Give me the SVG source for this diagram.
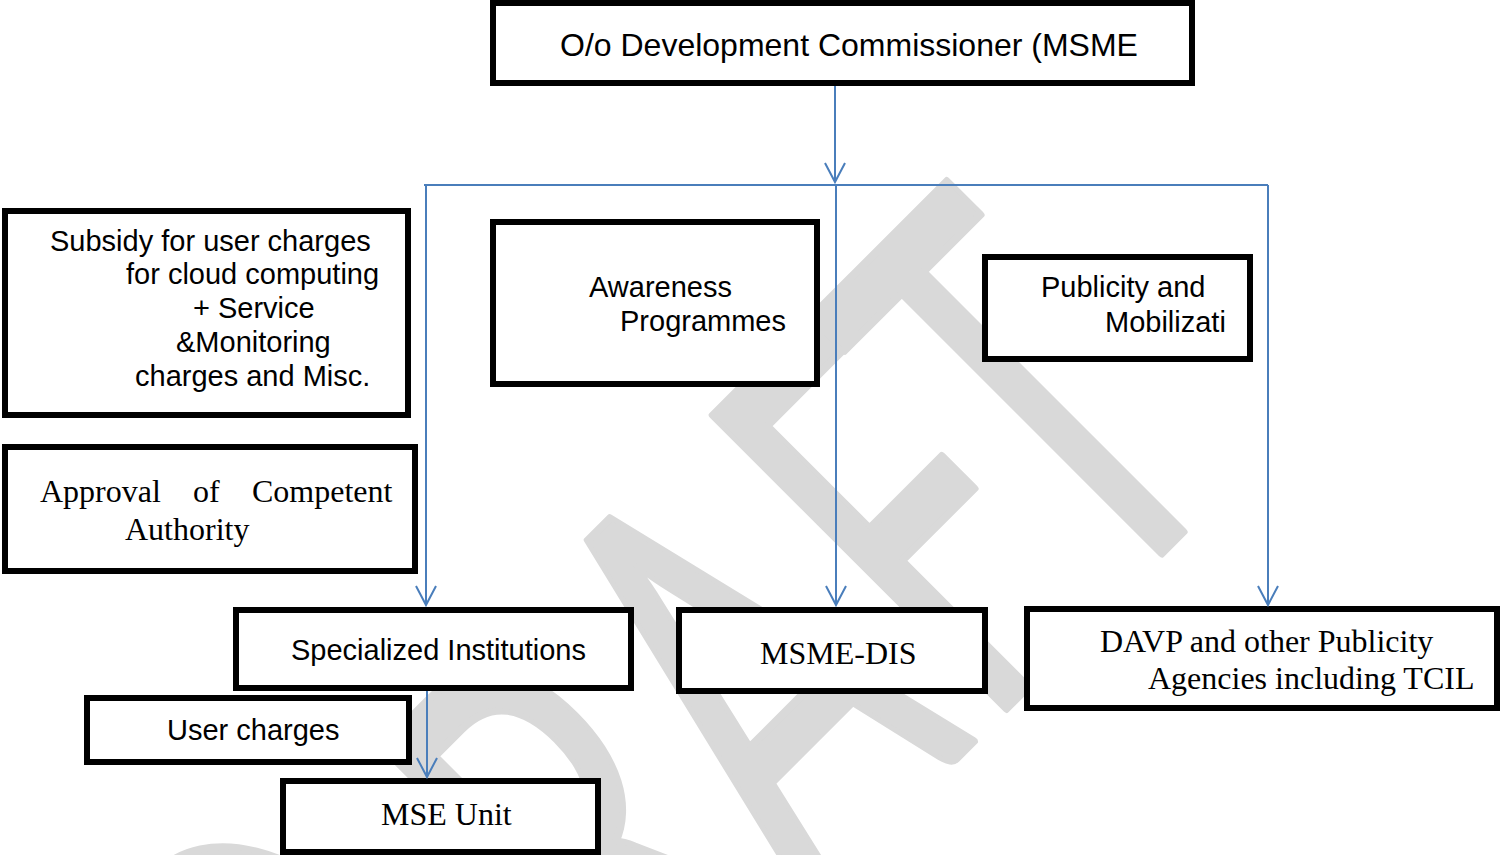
<svg xmlns="http://www.w3.org/2000/svg" width="1500" height="855" viewBox="0 0 1500 855">
<defs>
<style>
.box{fill:#fff;stroke:#000;stroke-width:6}
.sans{font-family:"Liberation Sans",Arial,sans-serif;font-size:29px;fill:#000}
.serif{font-family:"Liberation Serif","Times New Roman",serif;font-size:32px;fill:#000}
.conn{fill:none;stroke:#4a7ebb;stroke-width:2}
.wm{font-family:Lato,"Open Sans",sans-serif;font-size:579px;fill:#d9d9d9;stroke:#d9d9d9;stroke-width:8;stroke-linejoin:round}
</style>
<marker id="arr" markerUnits="userSpaceOnUse" viewBox="-21 -12 23 24" refX="0" refY="0" markerWidth="23" markerHeight="24" orient="auto" overflow="visible">
<path d="M-19,-10 L0,0 L-19,10" fill="none" stroke="#4a7ebb" stroke-width="2"/>
</marker>
</defs>
<rect width="1500" height="855" fill="#fff"/>
<g id="watermark"><text class="wm" transform="translate(505,1210) rotate(-45) scale(0.6,1)" x="-3 527 913 1290 1573" y="-70 0 0 0 0" text-anchor="middle">DRAFT</text></g>

<g id="n-top"><rect class="box" x="493" y="3" width="699" height="80"/><text class="sans" x="560" y="56" style="font-size:32px">O/o Development Commissioner (MSME</text></g>
<g id="n-subsidy"><rect class="box" x="5" y="211" width="403" height="204"/>
<text class="sans"><tspan x="50" y="251">Subsidy for user charges</tspan><tspan x="126" y="284">for cloud computing</tspan><tspan x="193" y="318">+ Service</tspan><tspan x="176" y="352">&amp;Monitoring</tspan><tspan x="135" y="386">charges and Misc.</tspan></text></g>
<g id="n-approval"><rect class="box" x="5" y="447" width="410" height="124"/>
<text class="serif"><tspan x="40" y="502">Approval</tspan><tspan x="193" y="502">of</tspan><tspan x="252" y="502">Competent</tspan><tspan x="125" y="540">Authority</tspan></text></g>
<g id="n-awareness"><rect class="box" x="493" y="222" width="324" height="162"/>
<text class="sans"><tspan x="589" y="297">Awareness</tspan><tspan x="620" y="331">Programmes</tspan></text></g>
<g id="n-publicity"><rect class="box" x="985" y="257" width="265" height="102"/>
<text class="sans"><tspan x="1041" y="297">Publicity and</tspan><tspan x="1105" y="332">Mobilizati</tspan></text></g>
<g id="n-specialized"><rect class="box" x="236" y="610" width="395" height="78"/><text class="sans" x="291" y="660">Specialized Institutions</text></g>
<g id="n-user"><rect class="box" x="87" y="698" width="322" height="64"/><text class="sans" x="167" y="740">User charges</text></g>
<g id="n-mse"><rect class="box" x="283" y="781" width="315" height="71"/><text class="serif" x="381" y="825">MSE Unit</text></g>
<g id="n-msmedis"><rect class="box" x="679" y="610" width="306" height="81"/><text class="serif" x="760" y="664">MSME-DIS</text></g>
<g id="n-davp"><rect class="box" x="1027" y="609" width="470" height="99"/>
<text class="serif"><tspan x="1100" y="652">DAVP and other Publicity</tspan><tspan x="1148" y="689">Agencies including TCIL</tspan></text></g>

<g id="connectors" class="conn">
<path d="M835,86 V182" marker-end="url(#arr)"/>
<path d="M424,185 H1268"/>
<path d="M426,185 V605" marker-end="url(#arr)"/>
<path d="M836,185 V605" marker-end="url(#arr)"/>
<path d="M1268,185 V605" marker-end="url(#arr)"/>
<path d="M427,691 V777" marker-end="url(#arr)"/>
</g>
</svg>
